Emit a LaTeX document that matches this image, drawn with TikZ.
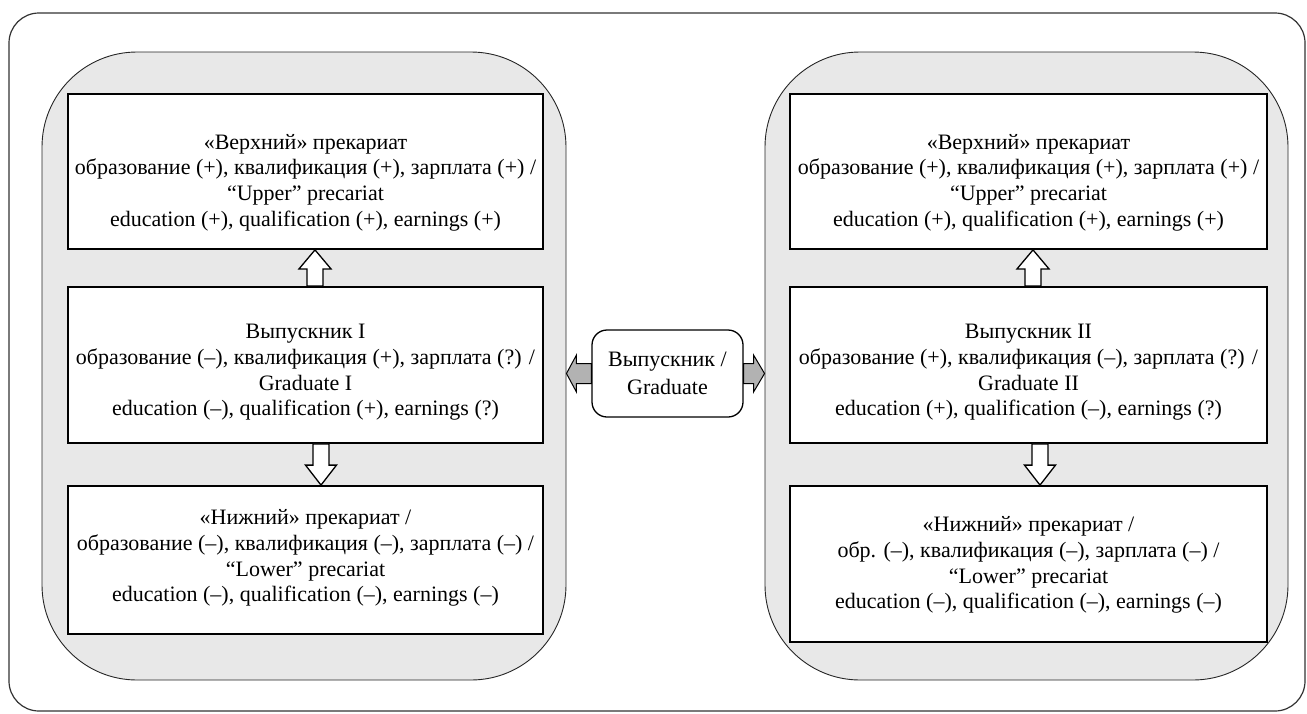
\documentclass[tikz,border=0pt]{standalone}
\usepackage{fontspec}
\setmainfont{Liberation Serif}
\usetikzlibrary{calc}
\begin{document}
\begin{tikzpicture}[x=1pt,y=1pt,
 frame/.style={draw=black!80, line width=1.2pt, rounded corners=30pt, inner sep=0pt},
 pane/.style={draw=black!85, line width=0.9pt, fill=black!9, rounded corners=95pt, inner sep=0pt},
 box/.style={draw=black, line width=1.8pt, fill=white, inner sep=0pt},
 txt/.style={align=center, font=\fontsize{22}{25.7}\selectfont, inner sep=0pt},
 cbox/.style={draw=black, line width=1.3pt, fill=white, rounded corners=15pt, inner sep=0pt},
 warrow/.style={draw=black, line width=1.3pt, fill=white, line join=miter},
 garrow/.style={draw=black, line width=1pt, fill=black!30, line join=miter},
]
\useasboundingbox (0,0) rectangle (1307,-713);
\node[frame, minimum width=1296pt, minimum height=698pt] (frame) at (657,-362) {};
% panes
\node[pane, minimum width=524pt, minimum height=628pt] (lp) at (304,-366) {};
\node[pane, minimum width=523pt, minimum height=628pt] (rp) at (1026.5,-366) {};
% boxes
\node[box, minimum width=475pt, minimum height=155pt] (l1) at (305.5,-171.5) {};
\node[box, minimum width=475pt, minimum height=156pt] (l2) at (305.5,-365) {};
\node[box, minimum width=475pt, minimum height=148pt] (l3) at (305.5,-560) {};
\node[box, minimum width=477pt, minimum height=155pt] (r1) at (1028.5,-171.5) {};
\node[box, minimum width=477pt, minimum height=156pt] (r2) at (1028.5,-365) {};
\node[box, minimum width=477pt, minimum height=156pt] (r3) at (1028.5,-564) {};
% texts
\node[txt] (l1t) at ($(l1.center)+(0,-11)$) {«Верхний» прекариат\\образование (+), квалификация (+), зарплата (+) /\\“Upper” precariat\\education (+), qualification (+), earnings (+)};
\node[txt] (l2t) at ($(l2.center)+(0,-7.5)$) {Выпускник I\\образование (–), квалификация (+), зарплата (?) /\\Graduate I\\education (–), qualification (+), earnings (?)};
\node[txt] (l3t) at ($(l3.center)+(0,2)$) {«Нижний» прекариат /\\образование (–), квалификация (–), зарплата (–) /\\“Lower” precariat\\education (–), qualification (–), earnings (–)};
\node[txt] (r1t) at ($(r1.center)+(0,-11)$) {«Верхний» прекариат\\образование (+), квалификация (+), зарплата (+) /\\“Upper” precariat\\education (+), qualification (+), earnings (+)};
\node[txt] (r2t) at ($(r2.center)+(0,-7.5)$) {Выпускник II\\образование (+), квалификация (–), зарплата (?) /\\Graduate II\\education (+), qualification (–), earnings (?)};
\node[txt] (r3t) at ($(r3.center)+(0,-1)$) {«Нижний» прекариат /\\обр. (–), квалификация (–), зарплата (–) /\\“Lower” precariat\\education (–), qualification (–), earnings (–)};
% centre
\node[cbox, txt, font=\fontsize{22}{27.5}\selectfont, minimum width=151pt, minimum height=87pt] (c) at (667.5,-373.5) {Выпускник /\\Graduate};
% vertical arrows
\draw[warrow] let \p1=($(l2.north)+(9.5,0)$), \p2=(l1.south) in
 (\x1,\y2) -- (\x1+16pt,\y2-19pt) -- (\x1+8pt,\y2-19pt) -- (\x1+8pt,\y1) -- (\x1-8pt,\y1) -- (\x1-8pt,\y2-19pt) -- (\x1-16pt,\y2-19pt) -- cycle;
\draw[warrow] let \p1=($(l2.south)+(15.5,0)$), \p2=(l3.north) in
 (\x1,\y2) -- (\x1+15.5pt,\y2+20pt) -- (\x1+8pt,\y2+20pt) -- (\x1+8pt,\y1) -- (\x1-8pt,\y1) -- (\x1-8pt,\y2+20pt) -- (\x1-15.5pt,\y2+20pt) -- cycle;
\draw[warrow] let \p1=($(r2.north)+(4.5,0)$), \p2=(r1.south) in
 (\x1,\y2) -- (\x1+16pt,\y2-19pt) -- (\x1+8pt,\y2-19pt) -- (\x1+8pt,\y1) -- (\x1-8pt,\y1) -- (\x1-8pt,\y2-19pt) -- (\x1-16pt,\y2-19pt) -- cycle;
\draw[warrow] let \p1=($(r2.south)+(11.5,0)$), \p2=(r3.north) in
 (\x1,\y2) -- (\x1+15.5pt,\y2+20pt) -- (\x1+8pt,\y2+20pt) -- (\x1+8pt,\y1) -- (\x1-8pt,\y1) -- (\x1-8pt,\y2+20pt) -- (\x1-15.5pt,\y2+20pt) -- cycle;
% horizontal arrows
\draw[garrow] let \p1=(c.west), \p2=(lp.east) in
 (\x2,\y1) -- (\x2+10pt,\y1+18.5pt) -- (\x2+10pt,\y1+10pt) -- (\x1,\y1+10pt) -- (\x1,\y1-10pt) -- (\x2+10pt,\y1-10pt) -- (\x2+10pt,\y1-18.5pt) -- cycle;
\draw[garrow] let \p1=(c.east), \p2=(rp.west) in
 (\x2,\y1) -- (\x2-11pt,\y1+18.5pt) -- (\x2-11pt,\y1+10pt) -- (\x1,\y1+10pt) -- (\x1,\y1-10pt) -- (\x2-11pt,\y1-10pt) -- (\x2-11pt,\y1-18.5pt) -- cycle;
\end{tikzpicture}
\end{document}
